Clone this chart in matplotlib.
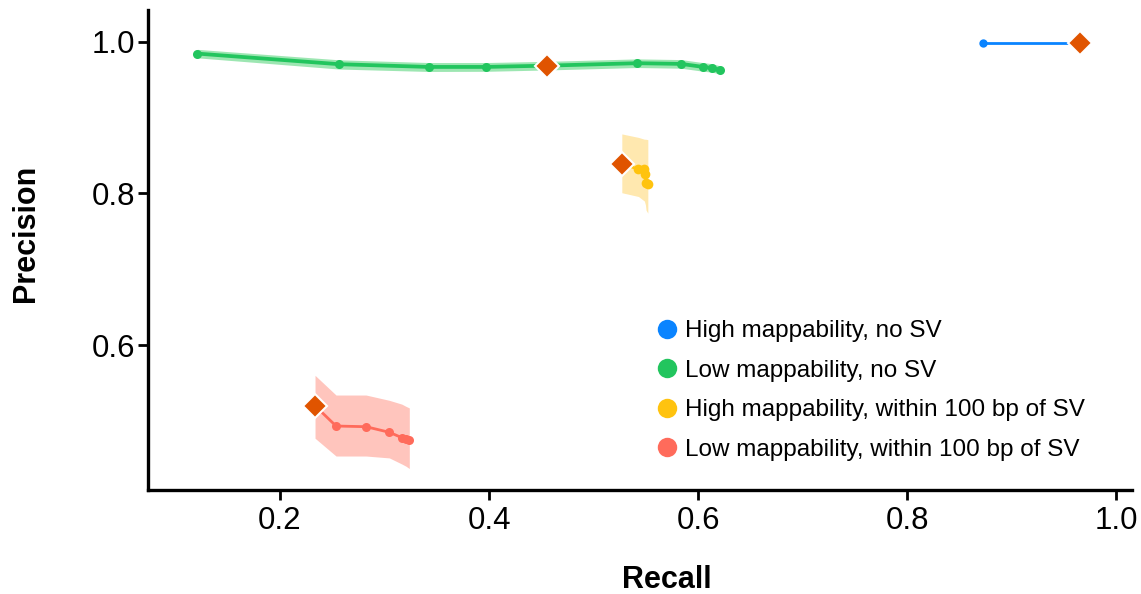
import matplotlib
matplotlib.use("Agg")
import matplotlib.pyplot as plt
from matplotlib.lines import Line2D

plt.rcParams['font.family'] = ['Liberation Sans', 'DejaVu Sans']

# ---- data ----
labels = ["High mappability, no SV",
          "Low mappability, no SV",
          "High mappability, within 100 bp of SV",
          "Low mappability, within 100 bp of SV"]
colors = ["#0A84FF", "#22C55E", "#FFC30F", "#FF6B5B"]
band_colors = ["#9CCBFF", "#93E4AA", "#FFE6A6", "#FFBFB6"]
diamond_color = "#E05400"

blue_recall = [0.873, 0.965]
blue_prec = [0.998, 0.998]
blue_lo = [0.997, 0.997]
blue_hi = [0.999, 0.999]
blue_mark = 1

green_recall = [0.1209, 0.2565, 0.3423, 0.3968, 0.4558, 0.5416, 0.5837, 0.6048, 0.6134, 0.6210]
green_prec = [0.9846, 0.9706, 0.9670, 0.9670, 0.9687, 0.9719, 0.9710, 0.9670, 0.9657, 0.9630]
green_lo = [0.9790, 0.9642, 0.9610, 0.9612, 0.9630, 0.9662, 0.9653, 0.9613, 0.9601, 0.9576]
green_hi = [0.9902, 0.9764, 0.9728, 0.9728, 0.9744, 0.9776, 0.9767, 0.9727, 0.9713, 0.9684]
green_mark = 4

yellow_recall = [0.5270, 0.5429, 0.5486, 0.5496, 0.5502, 0.5519]
yellow_prec = [0.8393, 0.8320, 0.8320, 0.8253, 0.8143, 0.8120]
yellow_lo = [0.8010, 0.7960, 0.7900, 0.7850, 0.7780, 0.7740]
yellow_hi = [0.8786, 0.8740, 0.8716, 0.8716, 0.8715, 0.8710]
yellow_mark = 0

red_recall = [0.2335, 0.2536, 0.2823, 0.3046, 0.3165, 0.3206, 0.3237]
red_prec = [0.5199, 0.4931, 0.4922, 0.4848, 0.4778, 0.4757, 0.4752]
red_lo = [0.4770, 0.4535, 0.4535, 0.4510, 0.4430, 0.4400, 0.4370]
red_hi = [0.5600, 0.5340, 0.5340, 0.5270, 0.5220, 0.5190, 0.5170]
red_mark = 0

xticks = [0.2, 0.4, 0.6, 0.8, 1.0]
yticks = [0.6, 0.8, 1.0]

series = [
    (blue_recall, blue_prec, blue_lo, blue_hi, blue_mark, 2.0, 6.0),
    (green_recall, green_prec, green_lo, green_hi, green_mark, 2.7, 6.5),
    (yellow_recall, yellow_prec, yellow_lo, yellow_hi, yellow_mark, 2.0, 7.0),
    (red_recall, red_prec, red_lo, red_hi, red_mark, 2.0, 6.5),
]

fig = plt.figure(figsize=(11.41, 5.94), dpi=100)
ax = fig.add_axes([0.1297, 0.175, 0.9923 - 0.1297, 0.983 - 0.175])

for i, (xr, yp, lo, hi, mk, lw, ms) in enumerate(series):
    ax.fill_between(xr, lo, hi, color=band_colors[i], alpha=0.9, lw=0, zorder=1)
    ax.plot(xr, yp, color=colors[i], lw=lw, zorder=2, solid_capstyle='round')
    ax.plot(xr, yp, 'o', color=colors[i], ms=ms, mew=0, zorder=3)
    ax.plot([xr[mk]], [yp[mk]], 'D', color=diamond_color, ms=12,
            mec='white', mew=1.5, zorder=4)

ax.set_xlim(0.0737, 1.0153)
ax.set_ylim(0.4086, 1.042)
ax.set_xticks(xticks)
ax.set_xticklabels([f"{t:.1f}" for t in xticks])
ax.set_yticks(yticks)
ax.set_yticklabels([f"{t:.1f}" for t in yticks])

for s in ['top', 'right']:
    ax.spines[s].set_visible(False)
for s in ['left', 'bottom']:
    ax.spines[s].set_linewidth(2.4)
ax.tick_params(axis='both', direction='out', length=7.5, width=2, labelsize=22.5)
ax.tick_params(axis='y', pad=2)
ax.tick_params(axis='x', pad=4)

ax.set_xlabel("Recall", fontsize=22, fontweight='bold', va='center')
ax.xaxis.set_label_coords(0.527, -0.1875)
ax.set_ylabel("Precision", fontsize=22, fontweight='bold', va='center')
ax.yaxis.set_label_coords(-0.124, 0.535)

handles = [Line2D([0], [0], marker='o', ls='', color=c, ms=14, mew=0) for c in colors]
ax.legend(handles, labels, loc='upper left', bbox_to_anchor=(0.515, 0.354),
          frameon=False, fontsize=17.5, handletextpad=0.26, labelspacing=0.72,
          borderaxespad=0, borderpad=0, handlelength=1.0)

fig.savefig("out.png", dpi=100)
